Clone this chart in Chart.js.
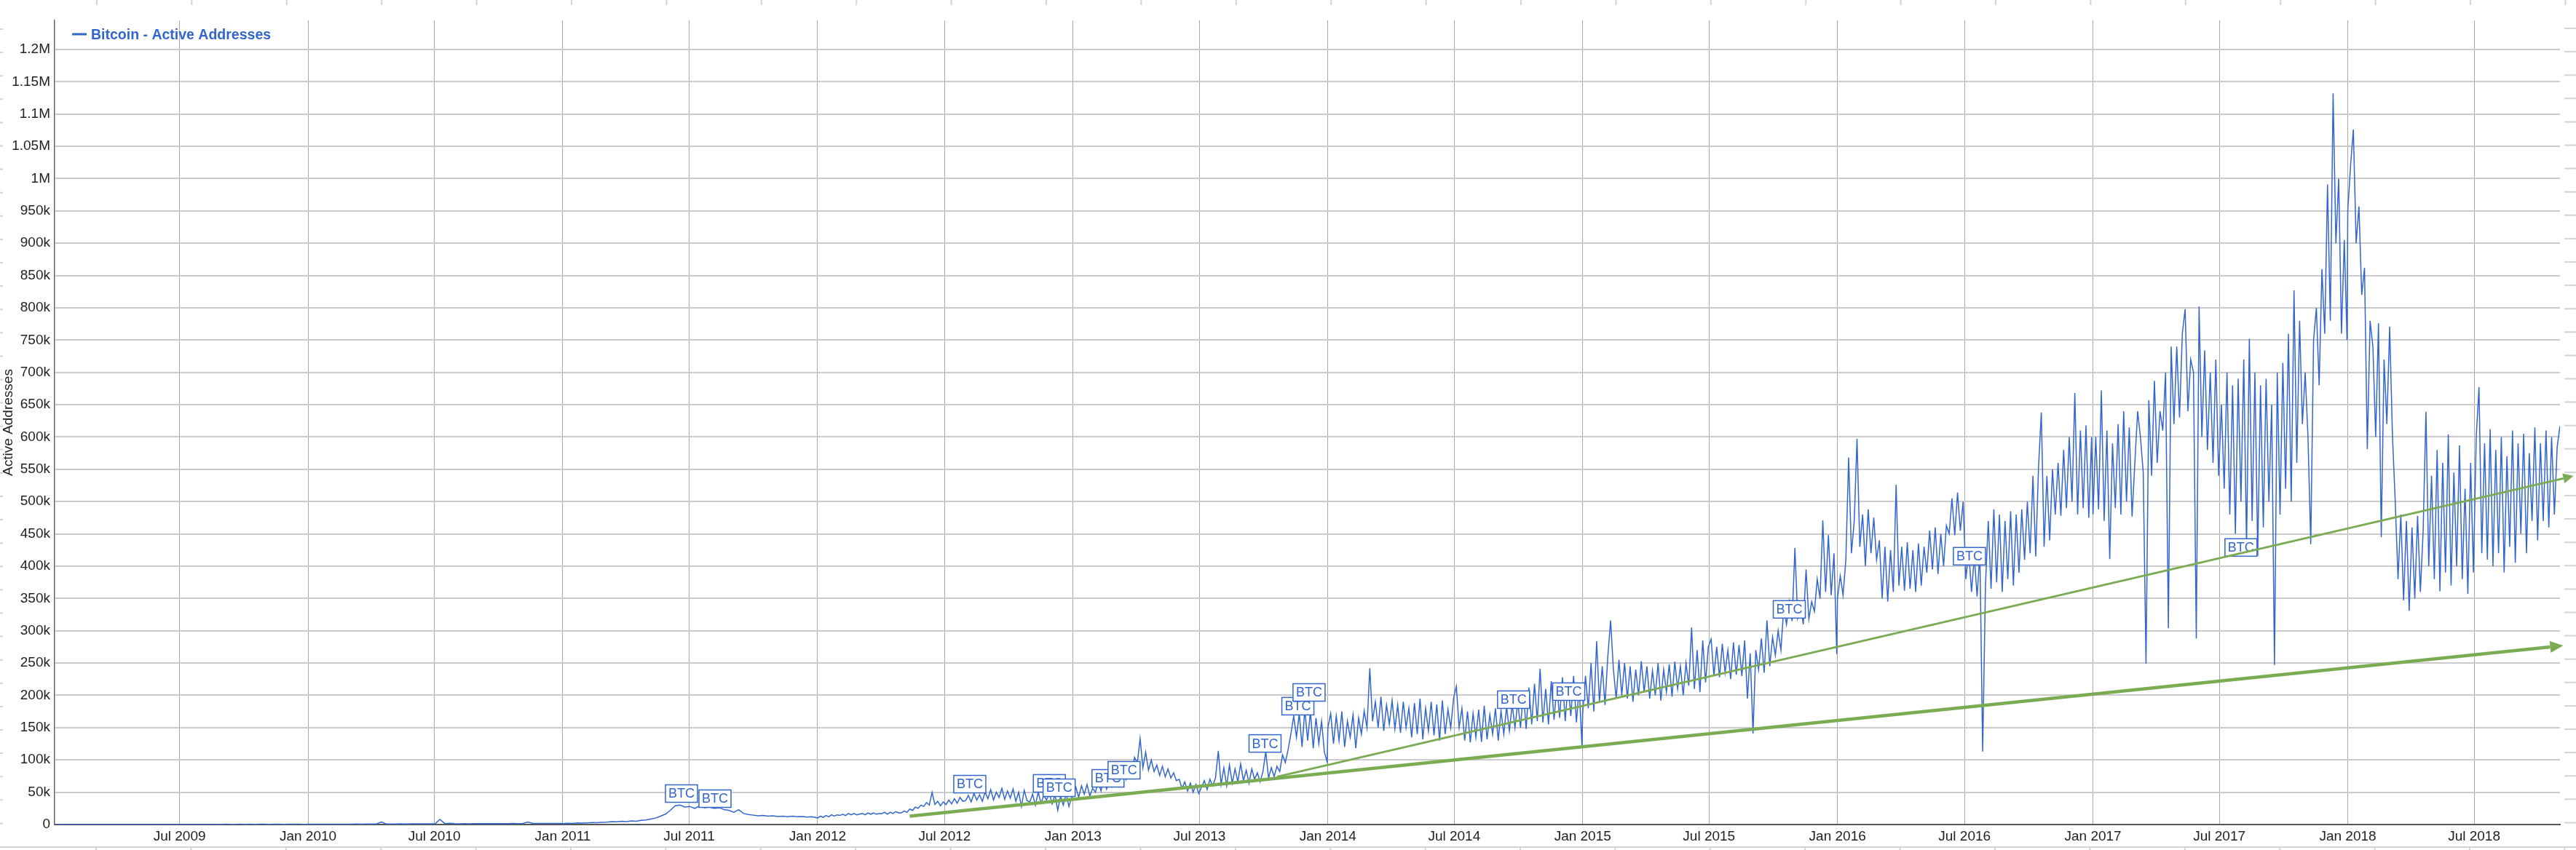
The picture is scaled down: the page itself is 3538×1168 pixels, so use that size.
<!DOCTYPE html>
<html>
<head>
<meta charset="utf-8">
<title>Bitcoin - Active Addresses</title>
<script src="https://cdn.jsdelivr.net/npm/chart.js@4.4.1/dist/chart.umd.min.js"></script>
<style>
  html, body { margin: 0; padding: 0; background: #fff; }
  canvas { display: block; }
</style>
</head>
<body>
<canvas id="chart" width="3538" height="1168"></canvas>
<script>
// Active addresses, in thousands. Weekly steps up to 2011, then every 4 days
const active2009 = [
  0.1, 0.2, 0.3, 0.2, 0.3, 0.2, 0.3, 0.3, 0.2, 0.3, 0.2, 0.2, 0.3,
  0.3, 0.2, 0.3, 0.2, 0.3, 0.3, 0.2, 0.3, 0.3, 0.4, 0.3, 0.3, 0.4,
  0.3, 0.4, 0.4, 0.3, 0.4, 0.4, 0.3, 0.4, 0.4, 0.5, 0.4, 0.4, 0.5,
  0.4, 0.5, 0.4, 0.5, 0.5, 0.4, 0.5, 0.5, 0.4, 0.5, 0.5, 0.5, 0.4
];
const active2010 = [
  0.5, 0.6, 0.5, 0.7, 0.6,   0.6, 0.7, 0.6, 0.7,   0.7, 0.8, 0.7, 0.8,
  0.8, 0.9, 4, 0.9, 0.8,     0.9, 1, 0.9, 1,       1, 1.1, 1, 1.2,
  1.1, 8, 1.5, 2, 1.3,       1.2, 1.3, 1.2, 1.4,   1.3, 1.4, 1.3, 1.5,
  1.4, 1.5, 1.4, 1.6, 1.5,   1.6, 4, 1.6, 1.7,     1.6, 1.8, 1.7, 1.8, 1.6
];
const active2011 = [
  1.5, 2, 1.8, 2.4, 2.2,     2.6, 3, 2.8, 3.4,     3.8, 4.6, 4.2, 5,
  4.5, 5.5, 5, 6.5, 7,       8.5, 10, 13, 16,      22, 29, 30, 27,
  28, 25, 29, 26, 27,        25, 26, 23, 22,       19, 23, 17, 15.5,
  14.5, 13.5, 14, 13, 13.5,  12.5, 13, 12, 13,     12, 12.5, 11.5, 12, 10.5
];
const active2012 = [
  10, 13, 11, 14, 12, 15, 13, 15,
  14, 16, 14, 17, 15, 17, 15,
  16, 17, 15, 18, 16, 18, 16, 17,
  17, 19, 16, 19, 17, 20, 18,
  18, 21, 19, 24, 22, 27, 25, 30,
  28, 34, 30, 50, 31, 36, 29, 35,
  31, 38, 32, 40, 33, 42, 36,
  37, 45, 35, 48, 38, 46, 36, 50,
  40, 54, 38, 50, 42, 56, 39, 52,
  41, 55, 36, 50, 28, 53, 37,
  35, 47, 30, 50, 33, 45, 38, 48,
  32, 46, 22, 44, 30, 48, 28, 42
];
const active2013 = [
  45, 58, 42, 60, 47, 62, 44, 56,
  50, 66, 52, 72, 55, 70, 58,
  62, 78, 64, 84, 70, 92, 78, 104,
  95, 133, 88, 112, 84, 100, 82,
  92, 76, 90, 74, 86, 72, 80, 68,
  70, 56, 66, 52, 64, 50, 62, 48,
  58, 68, 54, 70, 60, 72, 114,
  62, 88, 60, 92, 64, 86, 66, 94,
  68, 84, 64, 86, 70, 80, 66, 82,
  113, 72, 88, 74, 90, 82, 108,
  96, 116, 140, 168, 135, 172, 120, 178,
  130, 175, 118, 165, 125, 160, 112, 97
];
const active2014 = [
  150, 172, 125, 168, 130, 175, 120, 160,
  135, 170, 118, 165, 140, 176, 150,
  242, 160, 190, 150, 198, 145, 185, 155,
  192, 148, 185, 142, 190, 150, 180,
  135, 188, 140, 195, 132, 180, 145, 190,
  138, 186, 130, 192, 140, 178, 150, 195,
  214, 150, 180, 130, 175, 127, 172,
  135, 178, 128, 184, 132, 170, 140, 180,
  130, 176, 140, 182, 145, 186, 150, 190,
  150, 205, 148, 212, 155, 218, 160,
  241, 158, 210, 155, 222, 162, 215, 165,
  228, 160, 220, 168, 230, 158, 212, 121
];
const active2015 = [
  172, 230, 180, 250, 175, 284, 190, 245,
  185, 260, 316, 240, 195, 255, 200,
  250, 195, 245, 190, 240, 200, 253, 205,
  245, 195, 238, 200, 250, 192, 240,
  205, 248, 198, 252, 210, 245, 200, 250,
  215, 305, 210, 270, 205, 285, 220, 275,
  287, 230, 275, 228, 280, 235, 270,
  225, 282, 232, 278, 230, 285, 195, 265,
  141, 270, 240, 288, 235, 316, 245, 290,
  262, 300, 270, 335, 310, 345, 315,
  428, 320, 340, 310, 395, 318, 345, 330,
  380, 350, 471, 360, 448, 355, 420, 264
];
const active2016 = [
  350, 385, 355, 410, 568, 420, 470, 597,
  430, 480, 400, 488, 420, 475, 410,
  440, 350, 430, 345, 425, 360, 526, 370,
  430, 362, 437, 365, 425, 360, 435,
  370, 430, 390, 455, 395, 460, 388, 450,
  400, 463, 450, 505, 448, 514, 455, 500,
  380, 424, 360, 415, 353, 420, 113,
  370, 470, 365, 488, 375, 480, 360, 470,
  380, 485, 370, 480, 390, 488, 410, 500,
  420, 540, 415, 553, 638, 430, 540,
  440, 550, 480, 560, 478, 580, 490, 600,
  500, 668, 480, 610, 490, 618, 475, 600
];
const active2017 = [
  480, 600, 488, 672, 470, 610, 411, 590,
  490, 620, 480, 640, 500, 615, 477,
  560, 640, 600, 545, 249, 657, 540, 687,
  560, 640, 610, 700, 304, 740, 620,
  740, 630, 760, 798, 640, 720, 700, 288,
  802, 600, 734, 580, 700, 560, 720, 540,
  650, 520, 700, 480, 680, 450, 690,
  500, 720, 430, 752, 470, 700, 416, 680,
  460, 690, 500, 650, 247, 700, 480, 715,
  520, 760, 500, 827, 560, 780, 620,
  700, 600, 434, 750, 800, 680, 860, 760,
  991, 780, 1132, 900, 1000, 760, 905, 750
];
const active2018 = [
  950, 1020, 1076, 900, 957, 820, 862, 581,
  780, 740, 600, 776, 445, 720, 620,
  771, 603, 500, 380, 480, 347, 470, 331,
  460, 350, 478, 360, 455, 639, 400,
  540, 380, 580, 361, 560, 390, 604, 370,
  545, 400, 587, 380, 520, 357, 560, 390,
  600, 677, 420, 590, 410, 612, 400,
  580, 420, 600, 390, 570, 430, 610, 405,
  590, 450, 605, 420, 575, 470, 615, 440,
  590, 470, 610, 460, 600, 480, 585, 617
];

const seriesStarts = ['2009-01-03', '2010-01-01', '2011-01-01', '2012-01-01', '2013-01-01',
  '2014-01-01', '2015-01-01', '2016-01-01', '2017-01-01', '2018-01-01'];
const seriesSteps = [7, 7, 7, 4, 4, 4, 4, 4, 4, 4];
const seriesValues = [active2009, active2010, active2011, active2012, active2013,
  active2014, active2015, active2016, active2017, active2018];

// BTC event flags: date and the level (k) of the flag's lower edge
const flagDates = ['2011-06-20', '2011-08-07', '2012-08-06', '2012-11-28', '2012-12-12',
  '2013-02-20', '2013-03-15', '2013-10-03', '2013-11-19', '2013-12-05',
  '2014-09-24', '2014-12-12', '2015-10-24', '2016-07-08', '2017-08-01'];
const flagLevels = [34.4, 26.5, 49, 50.2, 43.4, 58, 70.5, 112, 169.7, 191, 179.8, 192.2, 319.6, 401.9, 415.4];

// hand drawn trend arrows (start, end of shaft)
const trendBase = [['2012-05-12', 13], ['2018-10-18', 275]];
const trendSteep = [['2013-10-20', 74], ['2018-11-06', 536]];

const xTickDates = ['2009-07-01', '2010-01-01', '2010-07-01', '2011-01-01', '2011-07-01',
  '2012-01-01', '2012-07-01', '2013-01-01', '2013-07-01', '2014-01-01', '2014-07-01',
  '2015-01-01', '2015-07-01', '2016-01-01', '2016-07-01', '2017-01-01', '2017-07-01',
  '2018-01-01', '2018-07-01'];
const xTickLabels = ['Jul 2009', 'Jan 2010', 'Jul 2010', 'Jan 2011', 'Jul 2011',
  'Jan 2012', 'Jul 2012', 'Jan 2013', 'Jul 2013', 'Jan 2014', 'Jul 2014',
  'Jan 2015', 'Jul 2015', 'Jan 2016', 'Jul 2016', 'Jan 2017', 'Jul 2017',
  'Jan 2018', 'Jul 2018'];
const yTicks = [0, 50, 100, 150, 200, 250, 300, 350, 400, 450, 500, 550, 600,
  650, 700, 750, 800, 850, 900, 950, 1000, 1050, 1100, 1150, 1200];
const yTickLabels = ['0', '50k', '100k', '150k', '200k', '250k', '300k', '350k', '400k',
  '450k', '500k', '550k', '600k', '650k', '700k', '750k', '800k', '850k', '900k',
  '950k', '1M', '1.05M', '1.1M', '1.15M', '1.2M'];

document.addEventListener('DOMContentLoaded', () => {
    const DAY = 86400000;
    const BLUE = '#3366cc';
    const GREEN = '#7bab52';
    const FONT = '"Liberation Sans", Arial, Helvetica, sans-serif';
    const toTime = s => Date.parse(s);

    Chart.defaults.font.family = FONT;

    const points = [];
    seriesValues.forEach((vals, s) => {
        const start = toTime(seriesStarts[s]);
        vals.forEach((v, i) => {
            points.push({ x: start + i * seriesSteps[s] * DAY, y: v });
        });
    });

    const arrowPoints = arr => arr.map(p => ({ x: toTime(p[0]), y: p[1] }));

    // spreadsheet cell borders showing round the chart
    const sheetEdges = {
        id: 'sheetEdges',
        beforeDraw(chart) {
            const { ctx, width, height } = chart;
            ctx.save();
            ctx.strokeStyle = '#d4d4d4';
            ctx.lineWidth = 2;
            ctx.beginPath();
            for (let x = 133; x < width; x += 130.4) {
                ctx.moveTo(x, 0); ctx.lineTo(x, 7);
                ctx.moveTo(x - 1, height - 4); ctx.lineTo(x - 1, height);
            }
            for (let y = 40; y < height - 10; y += 32.1) {
                ctx.moveTo(0, y); ctx.lineTo(4, y);
                ctx.moveTo(width - 16, y - 1); ctx.lineTo(width, y - 1);
            }
            ctx.moveTo(0, height - 4); ctx.lineTo(width, height - 4);
            ctx.stroke();
            ctx.restore();
        }
    };

    const btcFlags = {
        id: 'btcFlags',
        afterDatasetDraw(chart, args) {
            if (args.index !== 0) return;
            const { ctx, scales: { x, y } } = chart;
            ctx.save();
            ctx.font = '18px ' + FONT;
            ctx.textAlign = 'center';
            ctx.textBaseline = 'middle';
            flagDates.forEach((d, i) => {
                const cx = x.getPixelForValue(toTime(d));
                const bottom = y.getPixelForValue(flagLevels[i]);
                ctx.fillStyle = '#fff';
                ctx.fillRect(cx - 22, bottom - 24, 44, 24);
                ctx.strokeStyle = BLUE;
                ctx.lineWidth = 1.5;
                ctx.strokeRect(cx - 22, bottom - 24, 44, 24);
                ctx.fillStyle = BLUE;
                ctx.fillText('BTC', cx, bottom - 11);
            });
            ctx.restore();
        }
    };

    const arrowHeads = {
        id: 'arrowHeads',
        afterDatasetsDraw(chart) {
            const ctx = chart.ctx;
            chart.data.datasets.forEach((ds, i) => {
                if (!ds.arrowHead) return;
                const pts = chart.getDatasetMeta(i).data;
                const a = pts[pts.length - 2];
                const b = pts[pts.length - 1];
                const ang = Math.atan2(b.y - a.y, b.x - a.x);
                const cos = Math.cos(ang), sin = Math.sin(ang);
                const [len, half] = ds.arrowHead;
                ctx.save();
                ctx.fillStyle = ds.borderColor;
                ctx.beginPath();
                ctx.moveTo(b.x + cos * len, b.y + sin * len);
                ctx.lineTo(b.x - sin * half, b.y + cos * half);
                ctx.lineTo(b.x + sin * half, b.y - cos * half);
                ctx.closePath();
                ctx.fill();
                ctx.restore();
            });
        }
    };

    const topLegend = {
        id: 'topLegend',
        afterDraw(chart) {
            const { ctx, chartArea } = chart;
            const ds = chart.data.datasets[0];
            const x0 = chartArea.left + 24;
            const y0 = chartArea.top + 19;
            ctx.save();
            ctx.strokeStyle = ds.borderColor;
            ctx.lineWidth = 3;
            ctx.beginPath();
            ctx.moveTo(x0, y0); ctx.lineTo(x0 + 20, y0);
            ctx.stroke();
            ctx.fillStyle = ds.borderColor;
            ctx.font = 'bold 19.5px ' + FONT;
            ctx.textBaseline = 'alphabetic';
            ctx.fillText(ds.label, x0 + 26, y0 + 7);
            ctx.restore();
        }
    };

    const ctx = document.getElementById('chart').getContext('2d');
    new Chart(ctx, {
        type: 'line',
        data: {
            datasets: [
                {
                    label: 'Bitcoin - Active Addresses',
                    data: points,
                    borderColor: BLUE,
                    borderWidth: 1.5,
                    pointRadius: 0,
                    tension: 0,
                    order: 3
                },
                {
                    label: 'trend',
                    data: arrowPoints(trendBase),
                    borderColor: GREEN,
                    borderWidth: 4.5,
                    pointRadius: 0,
                    clip: false,
                    arrowHead: [18, 8],
                    order: 2
                },
                {
                    label: 'trend steep',
                    data: arrowPoints(trendSteep),
                    borderColor: GREEN,
                    borderWidth: 2.8,
                    pointRadius: 0,
                    clip: false,
                    arrowHead: [14, 7],
                    order: 1
                }
            ]
        },
        options: {
            responsive: false,
            animation: false,
            devicePixelRatio: 1,
            layout: { padding: { top: 28, right: 22, left: 0, bottom: 0 } },
            plugins: {
                legend: { display: false },
                tooltip: { enabled: false }
            },
            scales: {
                x: {
                    type: 'linear',
                    min: toTime('2009-01-03'),
                    max: toTime('2018-11-01'),
                    afterBuildTicks: scale => {
                        scale.ticks = xTickDates.map(d => ({ value: toTime(d) }));
                    },
                    afterFit: scale => { scale.height = 35; },
                    grid: { color: '#a8a8a8', lineWidth: 1, drawTicks: false },
                    border: { color: '#555', width: 2 },
                    ticks: {
                        autoSkip: false,
                        maxRotation: 0,
                        padding: 5,
                        color: '#222',
                        font: { size: 19 },
                        callback: (v, i) => xTickLabels[i]
                    }
                },
                y: {
                    min: 0,
                    max: 1245,
                    afterBuildTicks: scale => {
                        scale.ticks = yTicks.map(v => ({ value: v }));
                    },
                    afterFit: scale => { scale.width = 75; },
                    grid: { color: '#cbcbcb', lineWidth: 2, drawTicks: false },
                    border: { color: '#666', width: 1.5 },
                    ticks: {
                        autoSkip: false,
                        padding: 6,
                        color: '#222',
                        font: { size: 19 },
                        callback: (v, i) => yTickLabels[i]
                    },
                    title: {
                        display: true,
                        text: 'Active Addresses',
                        color: '#222',
                        padding: 0,
                        font: { size: 19 }
                    }
                }
            }
        },
        plugins: [sheetEdges, btcFlags, arrowHeads, topLegend]
    });
});
</script>
</body>
</html>
